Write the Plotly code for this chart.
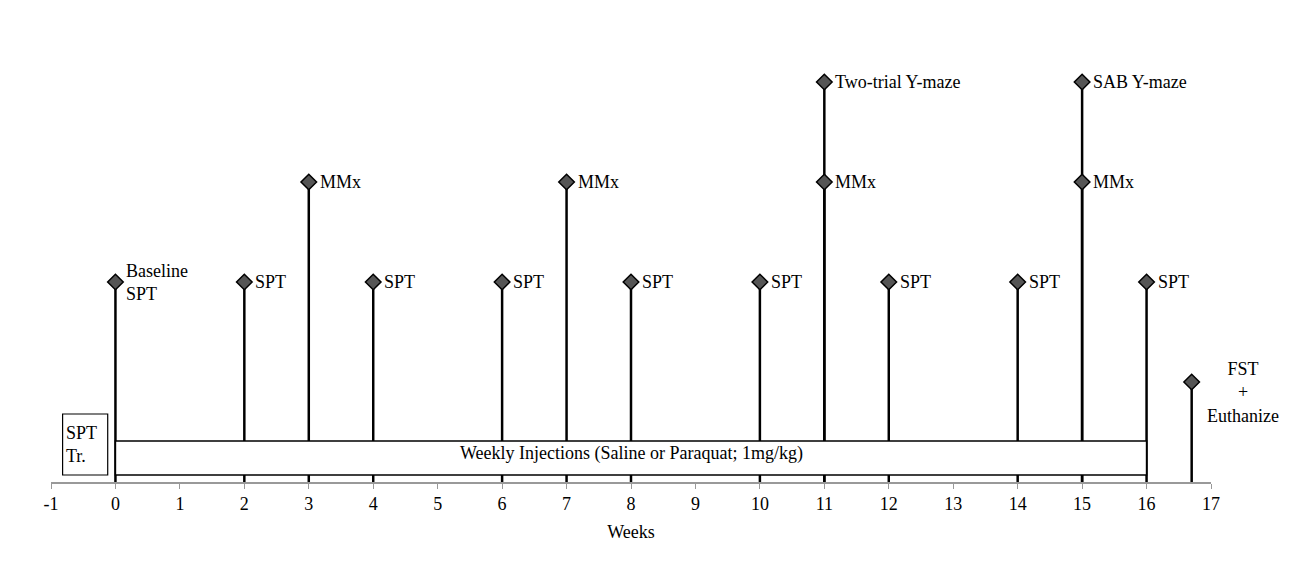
import plotly.graph_objects as go

# Timeline events: week, height level, label
weeks = [0, 2, 3, 4, 6, 7, 8, 10, 11, 11, 12, 14, 15, 15, 16, 16.7]
levels = [2, 2, 3, 2, 2, 3, 2, 2, 3, 4, 2, 2, 3, 4, 2, 1]
labels = ["Baseline<br>SPT", "SPT", "MMx", "SPT", "SPT", "MMx", "SPT", "SPT",
          "MMx", "Two-trial Y-maze", "SPT", "SPT", "MMx", "SAB Y-maze", "SPT",
          "FST<br>+<br>Euthanize"]

tick_vals = list(range(-1, 18))
tick_text = [str(t) for t in tick_vals]
injection_text = "Weekly Injections (Saline or Paraquat; 1mg/kg)"
training_text = "SPT<br>Tr."

FONT = "Liberation Serif, Times New Roman, serif"
FS = 18
X_MIN, X_MAX = -1, 17

# stems from the axis up to each marker
stem_x, stem_y = [], []
for w, lv in zip(weeks, levels):
    stem_x += [w, w, None]
    stem_y += [0, lv, None]

fig = go.Figure()
fig.add_trace(go.Scatter(
    x=stem_x, y=stem_y, mode="lines",
    line=dict(color="black", width=2.5),
    hoverinfo="skip", showlegend=False,
))
fig.add_trace(go.Scatter(
    x=weeks, y=levels, mode="markers",
    marker=dict(symbol="diamond", size=12, color="#555555",
                line=dict(color="black", width=1.5)),
    text=labels, hoverinfo="text", showlegend=False,
))

# labels to the right of markers
for w, lv, lab in zip(weeks[:-1], levels[:-1], labels[:-1]):
    fig.add_annotation(
        x=w, y=lv, text=lab, showarrow=False,
        xanchor="left", yanchor="middle", align="left",
        xshift=9, font=dict(family=FONT, size=FS, color="black"),
    )
# FST label sits off to the right of the axis, centred
fst_x = 17.49
fig.add_annotation(
    x=(fst_x - X_MIN) / (X_MAX - X_MIN), xref="paper", y=0.9, text=labels[-1],
    showarrow=False, xanchor="center", yanchor="middle", align="center",
    font=dict(family=FONT, size=FS, color="black"),
)

# injection period box
fig.add_shape(type="rect", x0=0, x1=16, y0=0.07, y1=0.41,
              fillcolor="white", line=dict(color="black", width=1.5),
              layer="above")
fig.add_annotation(x=8, y=0.29, text=injection_text, showarrow=False,
                   font=dict(family=FONT, size=FS, color="black"))

# SPT training box
fig.add_shape(type="rect", x0=-0.82, x1=-0.12, y0=0.07, y1=0.68,
              fillcolor="white", line=dict(color="black", width=1.2),
              layer="above")
fig.add_annotation(x=-0.8, y=0.38, text=training_text, showarrow=False,
                   xanchor="left", align="left",
                   font=dict(family=FONT, size=FS, color="black"))

fig.update_layout(
    width=1300, height=570,
    margin=dict(l=43, r=97, t=24, b=96),
    paper_bgcolor="white", plot_bgcolor="white",
    font=dict(family=FONT, size=FS, color="black"),
    xaxis=dict(
        range=[X_MIN, X_MAX], tickvals=tick_vals, ticktext=tick_text,
        ticks="outside", ticklen=5,
        tickcolor="#999999", showline=True, linecolor="#999999", linewidth=1.5,
        showgrid=False, zeroline=False,
        title=dict(text="Weeks", font=dict(family=FONT, size=FS), standoff=12),
        tickfont=dict(family=FONT, size=FS, color="black"),
    ),
    yaxis=dict(range=[0, 4.5], visible=False, showgrid=False, zeroline=False),
)

fig.write_html("out.html")
